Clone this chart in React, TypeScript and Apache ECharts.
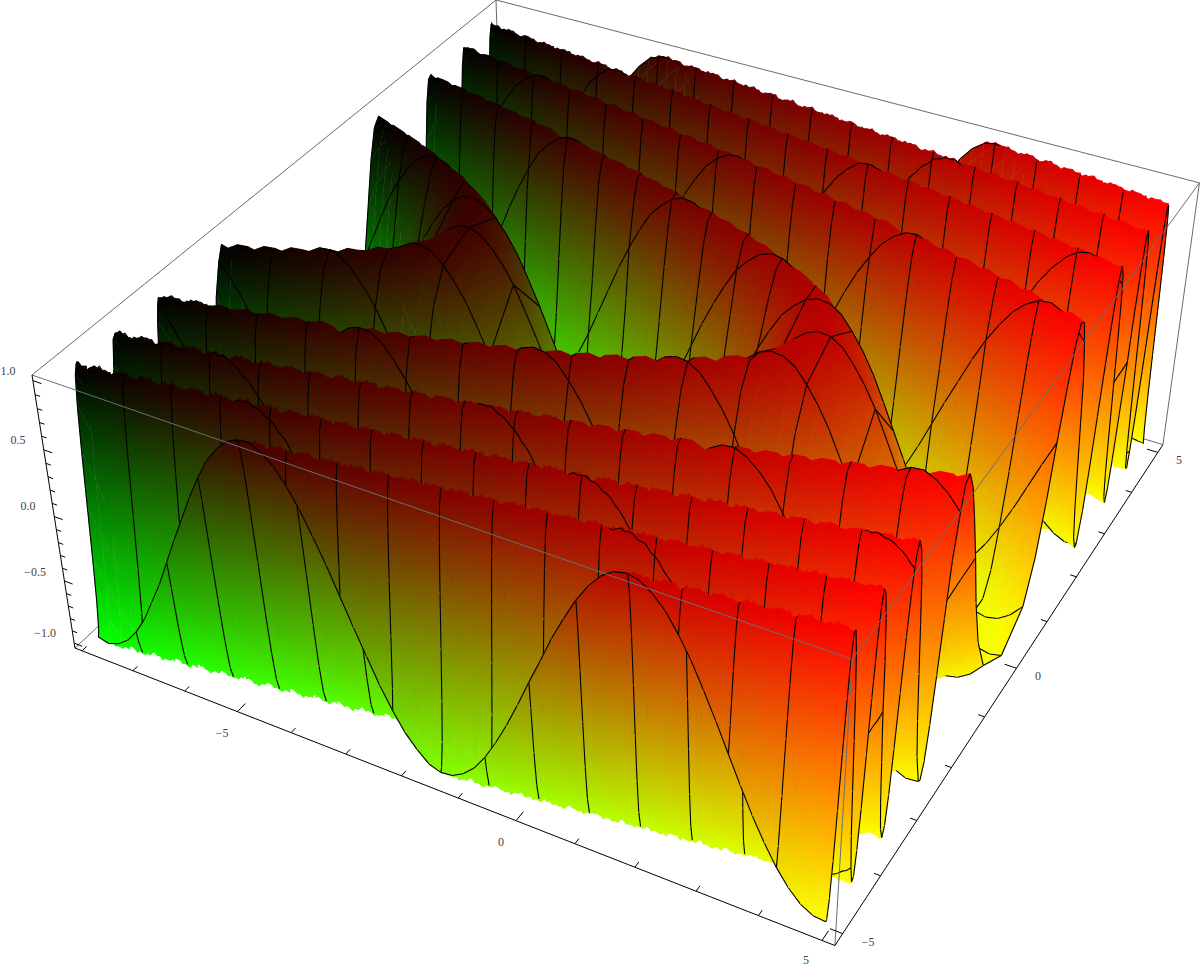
import React, { useEffect, useRef } from "react";
import * as echarts from "echarts";

// one wave cross-section along x, read in half-column steps
const waveProfile = [
-1,-.98,-.92,-.83,-.7,-.54,-.36,-.17,.03,.22,.41,.59,.73,.85,.94,.99,1,.97,.9,.8,.67,.5,.32,.12,-.08,-.27,-.46,-.63,-.77,-.88,-.96,-1,-.99,-.95,-.88,-.76,-.62,-.45,-.27,-.07,.13,
.33,.51,.67,.81,.9,.97,1,.99,.94,.84,.72,.57,.39,.2,.01,-.19,-.38,-.56,-.71,-.83,-.93,-.98,-1,-.98,-.92,-.82,-.69,-.53,-.35,-.15,.05,.24,.43,.6,.74,.86,.94,.99,1,.96,.89,.79,.65,.49,.3,.1,-.1,-.29,-.47,-.64,-.78,-.89,-.96,-1,-.99,-.94,-.87,-.75,-.61,-.44,-.25,-.05,.15,.34,
.52,.68,.81,.91,.98,1,.98,.93,.84,.72,.56,.39,.2,0,-.2,-.39,-.57,-.72,-.84,-.93,-.98,-1,-.97,-.91,-.81,-.68,-.51,-.34,-.14,.06,.25,.44,.61,.76,.87,.95,.99,1,.96,.89,.78,.64,.47,.29,.09,-.11,-.3,-.49,-.65,-.79,-.89,-.97,-1,-.99,-.94,-.86,-.74,-.59,-.42,-.23,-.03,.16,.36,.53,.69,.82,.92,.98,1,.98,.92,.83,.7,.55,.37,.18,-.02,-.22,-.41,-.58,-.73,-.85,-.94,-.99,-1,-.98];

// rows of the surface: distance |y| from the centre and how far the wave is shifted there
const rowY = [0,.625,.894,1.095,1.25,1.413,1.548,1.672,1.788,1.875,1.999,2.096,2.189,2.279,2.365,2.448,2.5,2.606,2.681,2.755,2.826,2.896,2.964,3.031,3.096,3.125,3.16,3.222,3.284,3.344,3.403,3.461,3.519,3.575,3.63,3.685,3.75,3.792,3.844,3.896,3.947,3.997,4.047,4.096,4.144,4.192,4.239,4.286,4.333,4.375,4.424,4.469,4.513,4.557,4.601,4.644,4.687,4.729,4.771,4.813,4.854,4.895,4.936,4.976,5];
const rowShift = [0,2,4,6,8,10,12,14,16,18,20,22,24,26,28,30,31,34,36,38,40,42,44,46,48,49,50,52,54,56,58,60,62,64,66,68,70,72,74,76,78,80,82,84,86,88,90,92,94,96,98,100,102,104,106,108,110,112,114,116,118,120,122,124,125];
const meshY = [5,4.375,3.75,3.125,2.5,1.875,1.25,.625,0];

// sampling noise on ridges and troughs
const jagNoise = [.02,.05,.01,.04,.03,.06,.02,.01,.05,.03,.07,.02,.04,.01,.06,.03,.02,.05,.01,.03,.06,.02,.04,.07,.01,.03,.05,.02,.06,.01,.04,.03,.05,.02,.07,.01,.03,.04,.02,.06,.03,.01,.05,.02,.04,.06,.01,.03,.07,.02,.05,.01,.04,.03,.06,.02,.01,.05,.03,.04,.02,.06,.01,.03];
const jagBandsY = [-5,-4.2,-3.4,-2.9,2.9,3.5,4.2,5.01];
const jagBandsAmp = [.45,.4,.25,0,.08,.15,.28];

const xTicks = [-8,-7,-6,-5,-4,-3,-2,-1,0,1,2,3,4,5];
const yTicks = [-5,-4,-3,-2,-1,0,1,2,3,4,5];
const zTicks = [-1,-.9,-.8,-.7,-.6,-.5,-.4,-.3,-.2,-.1,0,.1,.2,.3,.4,.5,.6,.7,.8,.9,1];
const axisLabels: [string, number, number][] = [
  ["1.0",8,371],["0.5",18,440],["0.0",28,506],["\u22120.5",35,572],["\u22121.0",45,633],
  ["\u22125",222,733],["0",501,842],["5",806,960],
  ["\u22125",868,942],["0",1038,676],["5",1179,460],
];

const X_MIN = -7.85, HALF_COL = .1997, CELLS = 64;
const BOX = { x0: -8.14, x1: 5.2, y0: -5.2, y1: 5.2, z0: -1.04, z1: 1.04 };
const MESH_W = 1.1;

const hom = (u: number, v: number, t: number): [number, number] => {
  const hx = 32 + u * 713.3 + v * 577.1 + t * 48.7;
  const hy = 375 + u * 201.6 - v * 375 + t * 322.6;
  const w = 1 - u * .1255 + v * .228 + t * .0765;
  return [hx / w, hy / w];
};
const proj = (x: number, y: number, z: number) =>
  hom((x - BOX.x0) / (BOX.x1 - BOX.x0), (y - BOX.y0) / (BOX.y1 - BOX.y0), (BOX.z1 - z) / (BOX.z1 - BOX.z0));

const colour = (x: number, z: number) => {
  const r = Math.max(0, Math.min(255, Math.round(((x - X_MIN) / (HALF_COL * CELLS)) * 255)));
  const g = Math.max(0, Math.min(255, Math.round(((1 - z) / 2) * 255)));
  return `rgb(${r},${g},0)`;
};
const colX = (c: number) => X_MIN + c * HALF_COL;

function fillFor(p: number[][], zs: number[], xm: number): any {
  const zmin = Math.min(...zs), zmax = Math.max(...zs);
  if (zmax - zmin < .03) return colour(xm, (zmin + zmax) / 2);
  let cx = 0, cy = 0, zc = 0;
  p.forEach((q, i) => { cx += q[0]; cy += q[1]; zc += zs[i]; });
  cx /= p.length; cy /= p.length; zc /= p.length;
  let a = 0, b = 0, c = 0, d = 0, e = 0;
  p.forEach((q, i) => {
    const dx = q[0] - cx, dy = q[1] - cy, dz = zs[i] - zc;
    a += dx * dx; b += dx * dy; c += dy * dy; d += dx * dz; e += dy * dz;
  });
  const det = a * c - b * b;
  const stops = [{ offset: 0, color: colour(xm, zmin) }, { offset: 1, color: colour(xm, zmax) }];
  if (det / (a + c + 1e-6) < 2) {
    // a sliver seen edge-on: run the colour from its lowest corner to its highest
    const lo = p[zs.indexOf(zmin)], hi = p[zs.indexOf(zmax)];
    if (Math.hypot(hi[0] - lo[0], hi[1] - lo[1]) < .01) return colour(xm, zc);
    return new echarts.graphic.LinearGradient(lo[0], lo[1], hi[0], hi[1], stops, true as any);
  }
  const ga = (d * c - e * b) / det, gb = (e * a - d * b) / det, g2 = ga * ga + gb * gb;
  if (g2 < 1e-9) return colour(xm, zc);
  return new echarts.graphic.LinearGradient(
    cx + ((zmin - zc) * ga) / g2, cy + ((zmin - zc) * gb) / g2,
    cx + ((zmax - zc) * ga) / g2, cy + ((zmax - zc) * gb) / g2,
    stops, true as any,
  );
}

const jagAmpAt = (y: number) => {
  for (let i = 0; i + 1 < jagBandsY.length; i++) if (y >= jagBandsY[i] && y < jagBandsY[i + 1]) return jagBandsAmp[i];
  return 0;
};

const buildChildren = (api: any) => {
  const kids: any[] = [];
  const P = (x: number, y: number, z: number) => api.coord(proj(x, y, z));
  const seg = (a: number[], b: number[], stroke: string, lineWidth: number) =>
    kids.push({ type: "line", shape: { x1: a[0], y1: a[1], x2: b[0], y2: b[1] }, style: { stroke, lineWidth } });
  const isMesh = (y: number) => meshY.includes(Math.abs(y));

  const rows: { y: number; s: number }[] = [];
  for (let i = rowY.length - 1; i >= 0; i--) rows.push({ y: rowY[i], s: rowShift[i] });
  for (let i = 1; i < rowY.length; i++) rows.push({ y: -rowY[i], s: rowShift[i] });

  const corner = (u: number, v: number, t: number) => api.coord(hom(u, v, t));
  const gray = "#6a6a6a";
  seg(corner(0, 0, 0), corner(0, 1, 0), gray, 1);
  seg(corner(0, 1, 0), corner(1, 1, 0), gray, 1);
  seg(corner(1, 1, 0), corner(1, 1, 1), gray, 1);
  seg(corner(0, 1, 0), corner(0, 1, 1), gray, 1);
  seg(corner(0, 1, 1), corner(0, 0, 1), gray, 1);
  seg(corner(0, 1, 1), corner(1, 1, 1), gray, 1);

  const meshEdge = (y: number, c: number, z0: number, z1: number) => {
    const amp = jagAmpAt(y) * .5;
    const x0 = colX(c), x1 = colX(c + 1);
    if (amp === 0 || Math.abs(y) >= 4.99) { seg(P(x0, y, z0), P(x1, y, z1), "#000", MESH_W); return; }
    const n = 3;
    const pts: number[][] = [];
    for (let k = 0; k <= n; k++) {
      const f = k / n;
      const j = k === 0 || k === n ? 0 : jagNoise[(c * 3 + k) % jagNoise.length] * amp * (k % 2 ? 1 : -1);
      pts.push(P(x0 + (x1 - x0) * f, y, z0 + (z1 - z0) * f + j));
    }
    kids.push({ type: "polyline", shape: { points: pts }, style: { stroke: "#000", lineWidth: MESH_W, fill: "none" } });
  };
  const fringe = (y: number, c: number, z0: number, z1: number, dir: number) => {
    const amp = jagAmpAt(y);
    if (amp === 0) return;
    const x0 = colX(c), x1 = colX(c + 1), n = 4;
    const pts: number[][] = [P(x0, y, z0)];
    for (let k = 0; k <= n; k++) {
      const f = k / n;
      pts.push(P(x0 + (x1 - x0) * f, y, z0 + (z1 - z0) * f + dir * amp * jagNoise[(c * 4 + k + Math.round(y * 37) + 640) % jagNoise.length]));
    }
    pts.push(P(x1, y, z1));
    kids.push({ type: "polygon", shape: { points: pts }, style: { fill: colour((x0 + x1) / 2, dir * .98), stroke: "none" } });
  };

  for (let r = 0; r + 1 < rows.length; r++) {
    const A = rows[r], B = rows[r + 1];
    for (let c = 0; c < CELLS; c++) {
      const a0 = waveProfile[c + A.s], a1 = waveProfile[c + 1 + A.s];
      const b0 = waveProfile[c + B.s], b1 = waveProfile[c + 1 + B.s];
      const x0 = colX(c), x1 = colX(c + 1);
      const pts = [P(x0, A.y, a0), P(x1, A.y, a1), P(x1, B.y, b1), P(x0, B.y, b0)];
      const fill = fillFor(pts, [a0, a1, b1, b0], (x0 + x1) / 2);
      kids.push({ type: "polygon", shape: { points: pts }, style: { fill, stroke: fill, lineWidth: .5 } });
      if (a0 > .93 && a1 > .93) fringe(A.y, c, a0, a1, 1);
      if (a0 < -.93 && a1 < -.93) fringe(A.y, c, a0, a1, -1);
      if (c % 4 === 0) seg(pts[0], pts[3], "#000", MESH_W);
      if (c === CELLS - 1) seg(pts[1], pts[2], "#000", MESH_W);
      if (isMesh(A.y)) meshEdge(A.y, c, a0, a1);
      if (r + 2 === rows.length && isMesh(B.y)) seg(pts[3], pts[2], "#000", MESH_W);
    }
  }

  const over = "#66707a";
  seg(corner(0, 0, 0), corner(1, 0, 0), over, 1);
  seg(corner(1, 0, 0), corner(1, 1, 0), over, 1);
  seg(corner(1, 0, 0), corner(1, 0, 1), over, 1);
  seg(corner(0, 0, 0), corner(0, 0, 1), "#000", 1);
  seg(corner(0, 0, 1), corner(1, 0, 1), "#000", 1);
  seg(corner(1, 0, 1), corner(1, 1, 1), "#000", 1);
  const U = (x: number) => (x - BOX.x0) / (BOX.x1 - BOX.x0);
  const V = (y: number) => (y - BOX.y0) / (BOX.y1 - BOX.y0);
  const T = (z: number) => (BOX.z1 - z) / (BOX.z1 - BOX.z0);
  xTicks.forEach((x) => seg(corner(U(x), 0, 1), corner(U(x), x % 5 === 0 ? .016 : .009, 1), "#000", 1));
  yTicks.forEach((y) => seg(corner(1, V(y), 1), corner(y % 5 === 0 ? .985 : .992, V(y), 1), "#000", 1));
  zTicks.forEach((z, i) => seg(corner(0, 0, T(z)), corner(i % 5 === 0 ? .012 : .007, 0, T(z)), "#000", 1));
  return kids;
};

export default function App() {
  const ref = useRef<HTMLDivElement>(null);
  useEffect(() => {
    const chart = echarts.init(ref.current!, null, { renderer: "svg" });
    chart.setOption({
      animation: false,
      backgroundColor: "#fff",
      grid: { left: 0, right: 0, top: 0, bottom: 0 },
      xAxis: { type: "value", min: 0, max: 1200, show: false },
      yAxis: { type: "value", min: 0, max: 971, inverse: true, show: false },
      graphic: axisLabels.map(([t, x, y]) => ({
        type: "text", x, y, z: 100,
        style: { text: t, fill: "#444", font: '12px "Liberation Serif"', textAlign: "center", textVerticalAlign: "middle" },
      })),
      series: [{
        type: "custom", silent: true, clip: false, coordinateSystem: "cartesian2d",
        data: [[0, 0]],
        renderItem: (_p: any, api: any) => ({ type: "group", children: buildChildren(api) }),
      }],
    });
    return () => chart.dispose();
  }, []);
  return <div ref={ref} style={{ position: "absolute", left: 0, top: 0, width: 1200, height: 971 }} />;
}
